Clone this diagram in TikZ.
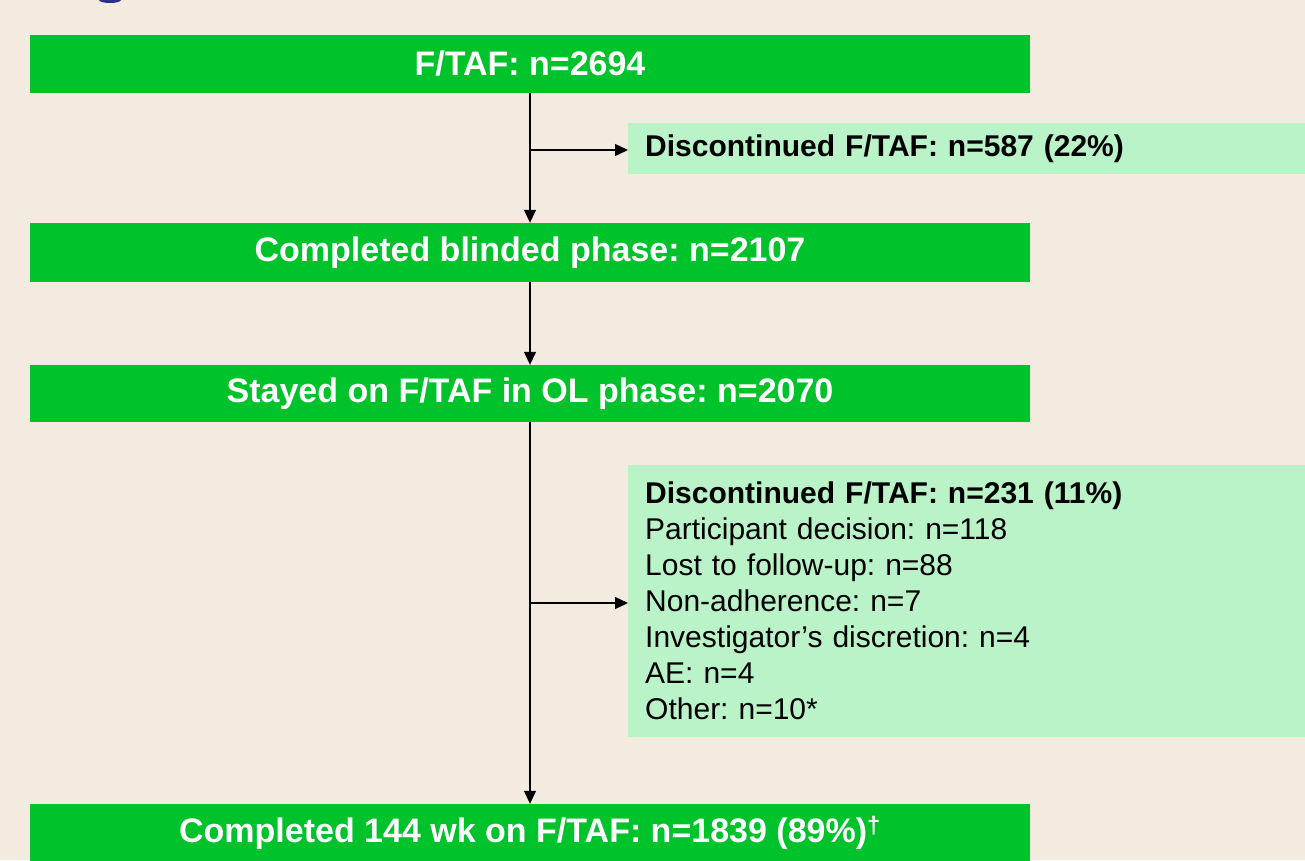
\documentclass[tikz,border=0pt]{standalone}
\usepackage{fontspec}
\setmainfont{Liberation Sans}
\frenchspacing
\usetikzlibrary{positioning, arrows.meta}
\definecolor{bgbeige}{HTML}{F3EBDF}
\definecolor{boxgreen}{HTML}{00C22B}
\definecolor{dcgreen}{HTML}{B9F3C7}
\definecolor{titleblue}{HTML}{2B2F8F}

\begin{document}
\begin{tikzpicture}[x=1pt, y=-1pt,
    gbox/.style={fill=boxgreen, text=white, inner sep=0pt,
                 minimum width=1000pt, font=\fontsize{34}{40}\selectfont\bfseries},
    lbox/.style={fill=dcgreen, text=black, inner xsep=17pt, inner ysep=0pt,
                 text width=643pt, align=left, anchor=west,
                 font=\fontsize{30}{36}\selectfont},
    arr/.style={black, line width=1.3pt, -{Triangle[length=13pt, width=12pt]}}]
    \useasboundingbox (0,0) rectangle (1305,860);
    \fill[bgbeige] (0,0) rectangle (1305,860);
    % cut-off title glyph at the top edge
    \fill[titleblue] (110,0) ellipse (11 and 3);

    \node[gbox, minimum height=58pt] (fa) at (530,64) {F/TAF: n=2694};
    \node[gbox, minimum height=59pt] (cb) at (530,252.5) {Completed blinded phase: n=2107};
    \node[gbox, minimum height=57pt] (ol) at (530,393.5) {Stayed on F/TAF in OL phase: n=2070};
    \node[gbox, minimum height=58pt] (wk) at (530,833) {Completed 144 wk on F/TAF: n=1839 (89\%)\textsuperscript{†}};

    \node[lbox, minimum height=51pt] (dc1) at (628,148.5)
      {\bfseries Discontinued F/TAF: n=587 (22\%)};
    \node[lbox, minimum height=272pt] (dc2) at (628,601)
      {\textbf{Discontinued F/TAF: n=231 (11\%)}\\
       Participant decision: n=118\\
       Lost to follow-up: n=88\\
       Non-adherence: n=7\\
       Investigator’s discretion: n=4\\
       AE: n=4\\
       Other: n=10*};

    \coordinate (j1) at (530,150);
    \coordinate (j2) at (530,603);
    \draw[arr] (fa.south) -- (cb.north);
    \draw[arr] (j1) -- (j1 -| dc1.west);
    \draw[arr] (cb.south) -- (ol.north);
    \draw[arr] (ol.south) -- (wk.north);
    \draw[arr] (j2) -- (j2 -| dc2.west);
\end{tikzpicture}
\end{document}
